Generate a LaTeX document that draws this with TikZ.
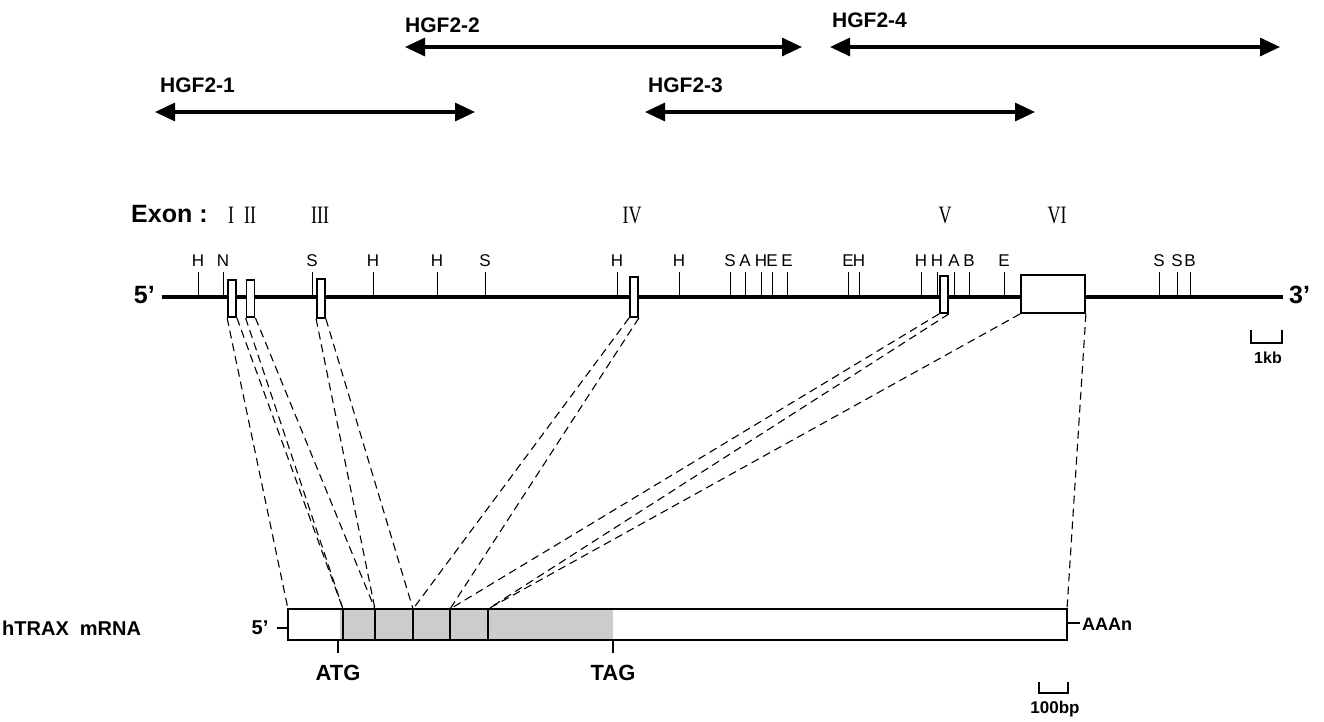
\documentclass[tikz,border=0pt]{standalone}
\usepackage{fontspec}
\usepackage{graphicx}
\setmainfont{Liberation Sans}
\newfontfamily\serifrm{Liberation Serif}
\usetikzlibrary{arrows.meta}
\newcommand\rmnum[1]{\scalebox{0.72}[1]{#1}}
\begin{document}
\begin{tikzpicture}[x=1pt,y=-1pt,
  lbl/.style={font=\fontsize{21}{21}\selectfont\bfseries, inner sep=0pt},
  biglbl/.style={font=\fontsize{25}{25}\selectfont\bfseries, inner sep=0pt},
  smalllbl/.style={font=\fontsize{17}{17}\selectfont\bfseries, inner sep=0pt},
  site/.style={font=\fontsize{17}{17}\selectfont, inner sep=0pt},
  roman/.style={font=\fontsize{25}{25}\serifrm, inner sep=0pt},
  exonbox/.style={draw, line width=1.8pt, fill=white, inner sep=0pt, minimum width=8pt},
  dashl/.style={dash pattern=on 8pt off 5pt, line width=1.1pt},
  hgf/.style={line width=3.2pt, {Triangle[length=20pt,width=18pt]}-{Triangle[length=20pt,width=18pt]}},
  tickl/.style={line width=0.9pt},
  bar/.style={line width=2pt}
]
\useasboundingbox (0,0) rectangle (1324,721);

% HGF clones
\coordinate (h1a) at (155,112); \coordinate (h1b) at (475,112);
\coordinate (h2a) at (405,47);  \coordinate (h2b) at (802,47);
\coordinate (h3a) at (645,112); \coordinate (h3b) at (1035,112);
\coordinate (h4a) at (830,47);  \coordinate (h4b) at (1280,47);
\draw[hgf] (h1a) -- (h1b);
\draw[hgf] (h2a) -- (h2b);
\draw[hgf] (h3a) -- (h3b);
\draw[hgf] (h4a) -- (h4b);
\node[lbl, anchor=west] (l1) at (160,85) {HGF2-1};
\node[lbl, anchor=west] (l2) at (405,25) {HGF2-2};
\node[lbl, anchor=west] (l3) at (648,85) {HGF2-3};
\node[lbl, anchor=west] (l4) at (832,20) {HGF2-4};

% Exon labels
\node[biglbl, anchor=west] (exlab) at (131,214) {Exon :};
\node[roman] (r1) at (231,215) {\rmnum{I}};
\node[roman] (r2) at (250,215) {\rmnum{II}};
\node[roman] (r3) at (320,215) {\rmnum{III}};
\node[roman] (r4) at (632,215) {\rmnum{IV}};
\node[roman] (r5) at (945,215) {\rmnum{V}};
\node[roman] (r6) at (1057,215) {\rmnum{VI}};

% genomic line
\node[biglbl, anchor=east] (g5) at (155,295) {5'};
\node[biglbl, anchor=west] (g3) at (1289,295) {3'};
\coordinate (gl) at (162,297);
\coordinate (gr) at (1283,297);
\draw[line width=4.2pt] (gl) -- (gr);

% restriction sites
\foreach \x/\t in {198/H,223/N,312/S,373/H,437/H,485/S,617/H,679/H,730/S,745/A,761/H,772/E,787/E,848/E,859/H,921/H,937/H,954/A,969/B,1004/E,1159/S,1177/S,1190/B}{
  \draw[tickl] (\x,272) -- (\x,296);
  \node[site] at (\x,261) {\t};
}

% exons
\node[exonbox, minimum height=37pt] (e1) at (232,298.5) {};
\node[exonbox, minimum height=37pt] (e2) at (250.5,298.5) {};
\node[exonbox, minimum height=39pt] (e3) at (321,298.5) {};
\node[exonbox, minimum height=40pt] (e4) at (634,297) {};
\node[exonbox, minimum height=37pt] (e5) at (944,294.5) {};
\node[exonbox, minimum height=38pt, minimum width=64pt] (e6) at (1053,294) {};

% 1kb scale
\draw[bar] (1251,330) -- (1251,343) -- (1282,343) -- (1282,330);
\node[smalllbl, font=\fontsize{16}{16}\selectfont\bfseries] (kb) at (1268,358) {1kb};

% mRNA
\fill[gray!40] (340,609) rectangle (613,640);
\node[draw, line width=2pt, inner sep=0pt, minimum width=779pt, minimum height=31pt] (mrna) at (677.5,624.5) {};
\coordinate (m0) at (288,609);
\coordinate (m1) at (343,609);
\coordinate (m2) at (375,609);
\coordinate (m3) at (413,609);
\coordinate (m4) at (450,609);
\coordinate (m5) at (488,609);
\coordinate (m6) at (1067,609);
\foreach \i in {1,...,5}{
  \draw[line width=2pt] (m\i) -- ++(0,31);
}
\node[lbl, anchor=west, font=\fontsize{20}{20}\selectfont\bfseries] (hx) at (2,628) {hTRAX\hspace{0.55em}mRNA};
\node[lbl, font=\fontsize{20}{20}\selectfont\bfseries] (m5p) at (260,628) {5'};
\draw[line width=1.5pt] (277,628) -- (mrna.west |- 0,628);
\draw[line width=1.5pt] (mrna.east |- 0,623) -- (1080,623);
\node[smalllbl, anchor=west, font=\fontsize{18}{18}\selectfont\bfseries] (aaan) at (1082,624) {AAAn};
\coordinate (atg) at (338,640);
\coordinate (tag) at (613,640);
\draw[line width=2pt] (atg) -- ++(0,13);
\draw[line width=2pt] (tag) -- ++(0,13);
\node[lbl, font=\fontsize{22}{22}\selectfont\bfseries] (atgl) at (338,673) {ATG};
\node[lbl, font=\fontsize{22}{22}\selectfont\bfseries] (tagl) at (613,673) {TAG};

% 100bp scale
\draw[bar] (1039,682) -- (1039,693) -- (1068,693) -- (1068,682);
\node[smalllbl] (bp) at (1055,709) {100bp};

% dashed correspondences
\draw[dashl] (e1.south west) -- (m0);
\draw[dashl] (e1.south east) -- (m1);
\draw[dashl] (e2.south west) -- (m1);
\draw[dashl] (e2.south east) -- (m2);
\draw[dashl] (e3.south west) -- (m2);
\draw[dashl] (e3.south east) -- (m3);
\draw[dashl] (e4.south west) -- (m3);
\draw[dashl] (e4.south east) -- (m4);
\draw[dashl] (e5.south west) -- (m4);
\draw[dashl] (e5.south east) -- (m5);
\draw[dashl] (e6.south west) -- (m5);
\draw[dashl] (e6.south east) -- (m6);
\end{tikzpicture}
\end{document}
